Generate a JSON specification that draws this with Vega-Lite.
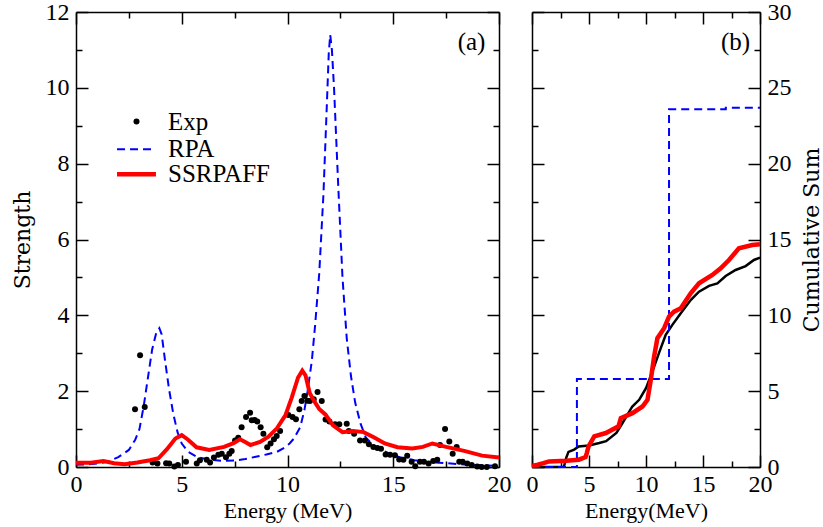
{
  "$schema": "https://vega.github.io/schema/vega-lite/v6.json",
  "background": "white",
  "padding": {"left": 11, "top": 0, "right": 1, "bottom": 4},
  "bounds": "flush",
  "spacing": 33,
  "config": {
    "view": {"stroke": null},
    "font": "Liberation Serif",
    "axis": {
      "domainColor": "black", "domainWidth": 1.5,
      "tickColor": "black", "tickWidth": 1.5,
      "labelColor": "black", "labelFont": "Liberation Serif", "labelFontSize": 24,
      "titleColor": "black", "titleFontWeight": "normal",
      "labelFlush": false, "labelOverlap": false, "grid": false
    }
  },
  "datasets": {
    "exp": [
      {"E": 2.79, "S": 1.52}, {"E": 3.03, "S": 2.95}, {"E": 3.25, "S": 1.58}, {"E": 3.62, "S": 0.12},
      {"E": 3.85, "S": 0.09}, {"E": 4.26, "S": 0.10}, {"E": 4.41, "S": 0.09}, {"E": 4.65, "S": 0.01},
      {"E": 4.82, "S": 0.05}, {"E": 5.20, "S": 0.14}, {"E": 5.71, "S": 0.09}, {"E": 5.86, "S": 0.18},
      {"E": 6.18, "S": 0.19}, {"E": 6.34, "S": 0.12}, {"E": 6.52, "S": 0.25}, {"E": 6.73, "S": 0.32},
      {"E": 6.89, "S": 0.35}, {"E": 7.09, "S": 0.26}, {"E": 7.25, "S": 0.35}, {"E": 7.36, "S": 0.42},
      {"E": 7.52, "S": 0.70}, {"E": 7.67, "S": 0.77}, {"E": 7.83, "S": 1.05}, {"E": 8.04, "S": 1.32},
      {"E": 8.23, "S": 1.43}, {"E": 8.31, "S": 1.23}, {"E": 8.45, "S": 1.24}, {"E": 8.57, "S": 1.20},
      {"E": 8.73, "S": 1.05}, {"E": 8.86, "S": 0.88}, {"E": 9.04, "S": 0.52}, {"E": 9.20, "S": 0.62},
      {"E": 9.36, "S": 0.73}, {"E": 9.49, "S": 0.82}, {"E": 9.65, "S": 0.95}, {"E": 10.04, "S": 1.37},
      {"E": 10.24, "S": 1.32}, {"E": 10.40, "S": 1.26}, {"E": 10.56, "S": 1.52}, {"E": 10.67, "S": 1.74},
      {"E": 10.80, "S": 1.87}, {"E": 10.94, "S": 1.75}, {"E": 11.06, "S": 1.74}, {"E": 11.24, "S": 1.79},
      {"E": 11.42, "S": 1.98}, {"E": 11.62, "S": 1.74}, {"E": 11.80, "S": 1.25}, {"E": 11.98, "S": 1.20},
      {"E": 12.25, "S": 1.13}, {"E": 12.45, "S": 1.13}, {"E": 12.80, "S": 1.14}, {"E": 12.90, "S": 0.95},
      {"E": 13.15, "S": 0.88}, {"E": 13.43, "S": 0.70}, {"E": 13.66, "S": 0.70}, {"E": 13.85, "S": 0.60},
      {"E": 14.06, "S": 0.53}, {"E": 14.25, "S": 0.50}, {"E": 14.42, "S": 0.48}, {"E": 14.64, "S": 0.33},
      {"E": 14.85, "S": 0.32}, {"E": 15.08, "S": 0.31}, {"E": 15.28, "S": 0.20}, {"E": 15.48, "S": 0.19},
      {"E": 15.66, "S": 0.30}, {"E": 15.87, "S": 0.14}, {"E": 16.04, "S": 0.02}, {"E": 16.26, "S": 0.14},
      {"E": 16.45, "S": 0.14}, {"E": 16.67, "S": 0.09}, {"E": 16.89, "S": 0.16}, {"E": 17.08, "S": 0.19},
      {"E": 17.21, "S": 0.58}, {"E": 17.45, "S": 1.00}, {"E": 17.65, "S": 0.67}, {"E": 17.81, "S": 0.35},
      {"E": 18.00, "S": 0.53}, {"E": 18.12, "S": 0.14}, {"E": 18.28, "S": 0.14}, {"E": 18.50, "S": 0.09},
      {"E": 18.71, "S": 0.05}, {"E": 18.97, "S": 0.01}, {"E": 19.18, "S": 0.00}, {"E": 19.42, "S": 0.00},
      {"E": 19.81, "S": 0.02}
    ],
    "rpa": [
      {"E": 0, "S": 0.06}, {"E": 0.5, "S": 0.07}, {"E": 1.0, "S": 0.09}, {"E": 1.5, "S": 0.14},
      {"E": 2.0, "S": 0.26}, {"E": 2.5, "S": 0.45}, {"E": 2.8, "S": 0.72}, {"E": 3.0, "S": 1.00},
      {"E": 3.2, "S": 1.60}, {"E": 3.4, "S": 2.35}, {"E": 3.6, "S": 3.10}, {"E": 3.8, "S": 3.55},
      {"E": 3.94, "S": 3.66}, {"E": 4.05, "S": 3.50}, {"E": 4.2, "S": 2.85}, {"E": 4.4, "S": 2.05},
      {"E": 4.6, "S": 1.40}, {"E": 4.8, "S": 0.92}, {"E": 5.0, "S": 0.62}, {"E": 5.3, "S": 0.40},
      {"E": 5.7, "S": 0.27}, {"E": 6.3, "S": 0.19}, {"E": 7.0, "S": 0.16}, {"E": 7.5, "S": 0.17},
      {"E": 8.0, "S": 0.21}, {"E": 8.5, "S": 0.27}, {"E": 9.0, "S": 0.33}, {"E": 9.5, "S": 0.40},
      {"E": 9.8, "S": 0.49}, {"E": 10.1, "S": 0.62}, {"E": 10.3, "S": 0.75}, {"E": 10.6, "S": 1.05},
      {"E": 10.8, "S": 1.50}, {"E": 10.95, "S": 2.00}, {"E": 11.15, "S": 2.80}, {"E": 11.3, "S": 3.70},
      {"E": 11.5, "S": 5.10}, {"E": 11.7, "S": 7.20}, {"E": 11.85, "S": 9.40}, {"E": 11.95, "S": 10.90},
      {"E": 12.02, "S": 11.40}, {"E": 12.1, "S": 11.00}, {"E": 12.2, "S": 10.00}, {"E": 12.4, "S": 7.40},
      {"E": 12.6, "S": 5.00}, {"E": 12.8, "S": 3.40}, {"E": 13.0, "S": 2.40}, {"E": 13.2, "S": 1.70},
      {"E": 13.45, "S": 1.15}, {"E": 13.7, "S": 0.78}, {"E": 14.0, "S": 0.60}, {"E": 14.3, "S": 0.49},
      {"E": 14.8, "S": 0.36}, {"E": 15.3, "S": 0.26}, {"E": 16.0, "S": 0.18}, {"E": 16.5, "S": 0.14},
      {"E": 17.0, "S": 0.12}, {"E": 17.5, "S": 0.10}, {"E": 18.0, "S": 0.08}, {"E": 18.5, "S": 0.06},
      {"E": 19.0, "S": 0.05}, {"E": 19.5, "S": 0.04}, {"E": 20.0, "S": 0.03}
    ],
    "ssrpaff": [
      {"E": 0, "S": 0.11}, {"E": 0.7, "S": 0.11}, {"E": 1.3, "S": 0.16}, {"E": 1.8, "S": 0.10},
      {"E": 2.3, "S": 0.07}, {"E": 2.9, "S": 0.12}, {"E": 3.5, "S": 0.18}, {"E": 3.9, "S": 0.23},
      {"E": 4.3, "S": 0.47}, {"E": 4.7, "S": 0.75}, {"E": 5.0, "S": 0.84}, {"E": 5.3, "S": 0.72},
      {"E": 5.7, "S": 0.52}, {"E": 6.3, "S": 0.45}, {"E": 7.0, "S": 0.53}, {"E": 7.45, "S": 0.63},
      {"E": 7.75, "S": 0.73}, {"E": 8.0, "S": 0.66}, {"E": 8.25, "S": 0.58}, {"E": 8.7, "S": 0.66},
      {"E": 9.1, "S": 0.80}, {"E": 9.5, "S": 1.02}, {"E": 9.9, "S": 1.36}, {"E": 10.2, "S": 1.83},
      {"E": 10.5, "S": 2.36}, {"E": 10.7, "S": 2.54}, {"E": 10.85, "S": 2.42}, {"E": 11.05, "S": 1.95},
      {"E": 11.25, "S": 1.75}, {"E": 11.5, "S": 1.53}, {"E": 11.8, "S": 1.38}, {"E": 12.15, "S": 1.10},
      {"E": 12.6, "S": 0.92}, {"E": 13.1, "S": 0.95}, {"E": 13.6, "S": 0.92}, {"E": 14.1, "S": 0.78},
      {"E": 14.6, "S": 0.62}, {"E": 15.2, "S": 0.52}, {"E": 15.9, "S": 0.49}, {"E": 16.4, "S": 0.53},
      {"E": 16.85, "S": 0.62}, {"E": 17.5, "S": 0.53}, {"E": 18.4, "S": 0.42}, {"E": 19.2, "S": 0.30},
      {"E": 20.0, "S": 0.25}
    ],
    "cum_exp": [
      {"E": 0, "C": 0}, {"E": 2.8, "C": 0.02}, {"E": 3.0, "C": 0.6}, {"E": 3.2, "C": 1.0},
      {"E": 3.7, "C": 1.15}, {"E": 4.1, "C": 1.35}, {"E": 5.0, "C": 1.42}, {"E": 5.9, "C": 1.58},
      {"E": 6.5, "C": 1.70}, {"E": 7.4, "C": 2.24}, {"E": 7.9, "C": 2.85}, {"E": 8.8, "C": 3.99},
      {"E": 9.4, "C": 4.43}, {"E": 10.0, "C": 5.20}, {"E": 10.56, "C": 6.29}, {"E": 11.15, "C": 7.54},
      {"E": 11.73, "C": 8.71}, {"E": 12.31, "C": 9.37}, {"E": 13.05, "C": 10.14}, {"E": 13.92, "C": 11.01},
      {"E": 14.65, "C": 11.56}, {"E": 15.53, "C": 11.94}, {"E": 16.26, "C": 12.11}, {"E": 16.99, "C": 12.59},
      {"E": 17.86, "C": 12.99}, {"E": 18.74, "C": 13.25}, {"E": 19.47, "C": 13.65}, {"E": 20.0, "C": 13.8}
    ],
    "cum_rpa": [
      {"E": 0, "C": 0}, {"E": 3.94, "C": 5.81}, {"E": 12.02, "C": 23.59}, {"E": 17.0, "C": 23.68}, {"E": 20.0, "C": 23.68}
    ],
    "cum_ss": [
      {"E": 0, "C": 0.07}, {"E": 0.5, "C": 0.15}, {"E": 1.0, "C": 0.25}, {"E": 1.5, "C": 0.37},
      {"E": 3.0, "C": 0.42}, {"E": 4.1, "C": 0.48}, {"E": 4.7, "C": 0.65}, {"E": 4.8, "C": 0.90},
      {"E": 4.96, "C": 1.36}, {"E": 5.46, "C": 2.02}, {"E": 6.48, "C": 2.24}, {"E": 7.59, "C": 2.68},
      {"E": 7.79, "C": 3.22}, {"E": 8.81, "C": 3.55}, {"E": 9.69, "C": 3.99}, {"E": 10.13, "C": 4.43},
      {"E": 10.42, "C": 5.75}, {"E": 10.71, "C": 7.28}, {"E": 11.0, "C": 8.49}, {"E": 11.59, "C": 9.15},
      {"E": 12.02, "C": 9.92}, {"E": 12.46, "C": 10.24}, {"E": 13.05, "C": 10.46}, {"E": 13.92, "C": 11.45},
      {"E": 14.65, "C": 12.11}, {"E": 15.82, "C": 12.66}, {"E": 16.55, "C": 13.10}, {"E": 17.28, "C": 13.65},
      {"E": 18.15, "C": 14.42}, {"E": 19.32, "C": 14.64}, {"E": 20.0, "C": 14.68}
    ]
  },
  "hconcat": [
    {
      "width": 423,
      "height": 455,
      "resolve": {"axis": {"x": "independent", "y": "independent"}},
      "layer": [
        {
          "data": {"name": "rpa"},
          "mark": {"type": "line", "strokeWidth": 2, "strokeDash": [8, 5], "color": "#0000ff"},
          "encoding": {
            "x": {"field": "E", "type": "quantitative", "scale": {"domain": [0, 20], "nice": false},
              "axis": {"orient": "top", "values": [0, 2.5, 5, 7.5, 10, 12.5, 15, 17.5, 20], "labels": false, "title": null,
                "tickSize": {"condition": {"test": "datum.value % 5 === 0", "value": -12}, "value": -6}}},
            "y": {"field": "S", "type": "quantitative", "scale": {"domain": [0, 12], "nice": false},
              "axis": {"orient": "right", "values": [0, 1, 2, 3, 4, 5, 6, 7, 8, 9, 10, 11, 12], "labels": false, "title": null,
                "tickSize": {"condition": {"test": "datum.value % 2 === 0", "value": -12}, "value": -6}}}
          }
        },
        {
          "data": {"name": "exp"},
          "mark": {"type": "circle", "size": 36, "opacity": 1, "color": "black"},
          "encoding": {
            "x": {"field": "E", "type": "quantitative", "scale": {"domain": [0, 20], "nice": false},
              "axis": {"orient": "bottom", "values": [0, 2.5, 5, 7.5, 10, 12.5, 15, 17.5, 20],
                "labelExpr": "datum.value % 5 === 0 ? datum.label : ''", "labelPadding": 17,
                "tickSize": {"condition": {"test": "datum.value % 5 === 0", "value": -12}, "value": -6},
                "title": "Energy (MeV)", "titleFont": "Liberation Serif", "titleFontSize": 22, "titleFontWeight": "normal", "titlePadding": -2}},
            "y": {"field": "S", "type": "quantitative", "scale": {"domain": [0, 12], "nice": false},
              "axis": {"orient": "left", "values": [0, 1, 2, 3, 4, 5, 6, 7, 8, 9, 10, 11, 12],
                "labelExpr": "datum.value % 2 === 0 ? datum.label : ''", "labelPadding": 19,
                "tickSize": {"condition": {"test": "datum.value % 2 === 0", "value": -12}, "value": -6},
                "title": "Strength", "titleFont": "DejaVu Serif", "titleFontSize": 22, "titleFontWeight": "normal", "titlePadding": 11}}
          }
        },
        {
          "data": {"name": "ssrpaff"},
          "mark": {"type": "line", "strokeWidth": 4, "color": "#ff0000"},
          "encoding": {
            "x": {"field": "E", "type": "quantitative", "scale": {"domain": [0, 20], "nice": false}, "axis": null},
            "y": {"field": "S", "type": "quantitative", "scale": {"domain": [0, 12], "nice": false}, "axis": null}
          }
        },
        {
          "data": {"values": [{}]},
          "mark": {"type": "text", "text": "(a)", "font": "Liberation Serif", "fontSize": 25, "color": "black", "align": "center", "baseline": "middle"},
          "encoding": {
            "x": {"datum": 18.7, "type": "quantitative", "axis": null},
            "y": {"datum": 11.2, "type": "quantitative", "axis": null}
          }
        },
        {
          "data": {"values": [{}]},
          "mark": {"type": "circle", "size": 36, "opacity": 1, "color": "black"},
          "encoding": {
            "x": {"datum": 2.86, "type": "quantitative", "axis": null},
            "y": {"datum": 9.11, "type": "quantitative", "axis": null}
          }
        },
        {
          "data": {"values": [{}]},
          "mark": {"type": "rule", "strokeWidth": 2, "strokeDash": [8, 5], "color": "#0000ff"},
          "encoding": {
            "x": {"datum": 1.94, "type": "quantitative", "axis": null},
            "x2": {"datum": 3.78},
            "y": {"datum": 8.38, "type": "quantitative", "axis": null}
          }
        },
        {
          "data": {"values": [{}]},
          "mark": {"type": "rule", "strokeWidth": 4.5, "color": "#ff0000"},
          "encoding": {
            "x": {"datum": 1.94, "type": "quantitative", "axis": null},
            "x2": {"datum": 3.78},
            "y": {"datum": 7.72, "type": "quantitative", "axis": null}
          }
        },
        {
          "data": {"values": [{}]},
          "mark": {"type": "text", "text": "Exp", "font": "Liberation Serif", "fontSize": 25, "color": "black", "align": "left", "baseline": "middle"},
          "encoding": {
            "x": {"datum": 4.35, "type": "quantitative", "axis": null},
            "y": {"datum": 9.11, "type": "quantitative", "axis": null}
          }
        },
        {
          "data": {"values": [{}]},
          "mark": {"type": "text", "text": "RPA", "font": "Liberation Serif", "fontSize": 25, "color": "black", "align": "left", "baseline": "middle"},
          "encoding": {
            "x": {"datum": 4.35, "type": "quantitative", "axis": null},
            "y": {"datum": 8.38, "type": "quantitative", "axis": null}
          }
        },
        {
          "data": {"values": [{}]},
          "mark": {"type": "text", "text": "SSRPAFF", "font": "Liberation Serif", "fontSize": 25, "color": "black", "align": "left", "baseline": "middle"},
          "encoding": {
            "x": {"datum": 4.35, "type": "quantitative", "axis": null},
            "y": {"datum": 7.72, "type": "quantitative", "axis": null}
          }
        }
      ]
    },
    {
      "width": 228,
      "height": 455,
      "resolve": {"axis": {"x": "independent", "y": "independent"}},
      "layer": [
        {
          "data": {"name": "cum_exp"},
          "mark": {"type": "line", "strokeWidth": 2.5, "color": "black"},
          "encoding": {
            "x": {"field": "E", "type": "quantitative", "scale": {"domain": [0, 20], "nice": false},
              "axis": {"orient": "bottom", "values": [0, 2.5, 5, 7.5, 10, 12.5, 15, 17.5, 20],
                "labelExpr": "datum.value % 5 === 0 ? datum.label : ''", "labelPadding": 17,
                "tickSize": {"condition": {"test": "datum.value % 5 === 0", "value": -12}, "value": -6},
                "title": "Energy(MeV)", "titleFont": "Liberation Serif", "titleFontSize": 22, "titleFontWeight": "normal", "titlePadding": -2}},
            "y": {"field": "C", "type": "quantitative", "scale": {"domain": [0, 30], "nice": false},
              "axis": {"orient": "right", "values": [0, 2.5, 5, 7.5, 10, 12.5, 15, 17.5, 20, 22.5, 25, 27.5, 30],
                "labelExpr": "datum.value % 5 === 0 ? datum.label : ''", "labelPadding": 19,
                "tickSize": {"condition": {"test": "datum.value % 5 === 0", "value": -12}, "value": -6},
                "title": "Cumulative Sum", "titleFont": "DejaVu Serif", "titleFontSize": 22, "titleFontWeight": "normal", "titlePadding": 10,
                "titleAngle": 270, "titleBaseline": "top"}}
          }
        },
        {
          "data": {"name": "cum_rpa"},
          "mark": {"type": "line", "strokeWidth": 2, "strokeDash": [8, 5], "color": "#0000ff", "interpolate": "step-after"},
          "encoding": {
            "x": {"field": "E", "type": "quantitative", "scale": {"domain": [0, 20], "nice": false},
              "axis": {"orient": "top", "values": [0, 2.5, 5, 7.5, 10, 12.5, 15, 17.5, 20], "labels": false, "title": null,
                "tickSize": {"condition": {"test": "datum.value % 5 === 0", "value": -12}, "value": -6}}},
            "y": {"field": "C", "type": "quantitative", "scale": {"domain": [0, 30], "nice": false},
              "axis": {"orient": "left", "values": [0, 2.5, 5, 7.5, 10, 12.5, 15, 17.5, 20, 22.5, 25, 27.5, 30], "labels": false, "title": null,
                "tickSize": {"condition": {"test": "datum.value % 5 === 0", "value": -12}, "value": -6}}}
          }
        },
        {
          "data": {"name": "cum_ss"},
          "mark": {"type": "line", "strokeWidth": 4.5, "color": "#ff0000"},
          "encoding": {
            "x": {"field": "E", "type": "quantitative", "scale": {"domain": [0, 20], "nice": false}, "axis": null},
            "y": {"field": "C", "type": "quantitative", "scale": {"domain": [0, 30], "nice": false}, "axis": null}
          }
        },
        {
          "data": {"values": [{}]},
          "mark": {"type": "text", "text": "(b)", "font": "Liberation Serif", "fontSize": 25, "color": "black", "align": "center", "baseline": "middle"},
          "encoding": {
            "x": {"datum": 17.86, "type": "quantitative", "axis": null},
            "y": {"datum": 28.0, "type": "quantitative", "axis": null}
          }
        }
      ]
    }
  ]
}
